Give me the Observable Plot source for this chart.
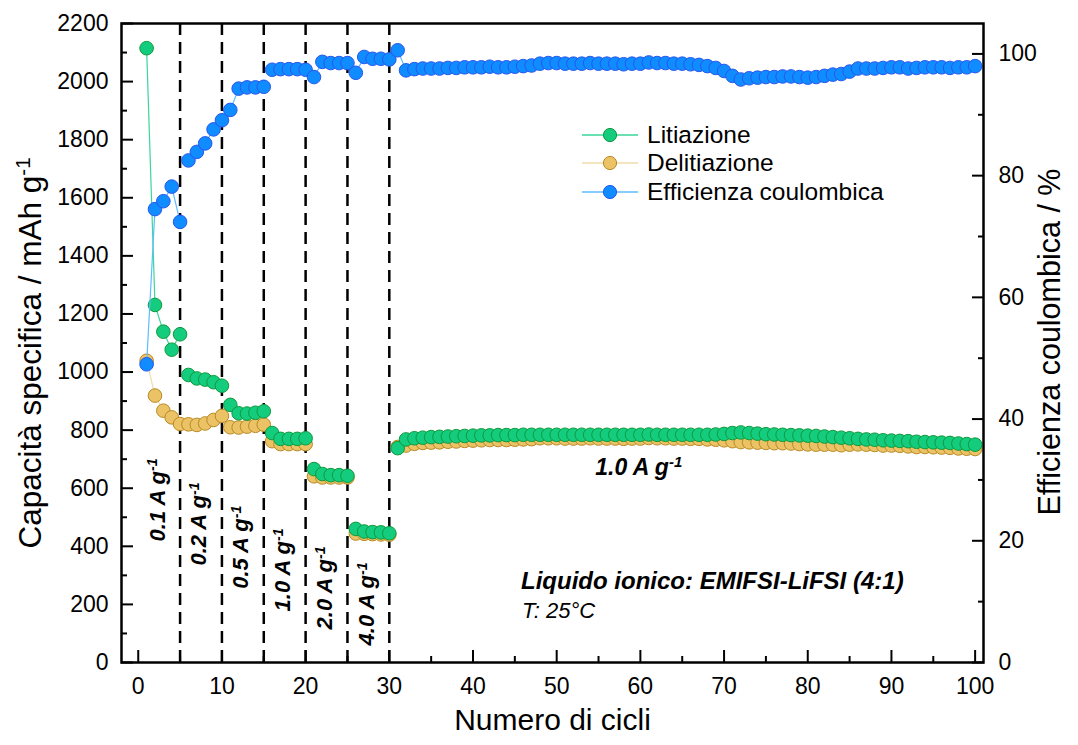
<!DOCTYPE html>
<html>
<head>
<meta charset="utf-8">
<script src="https://cdn.jsdelivr.net/npm/d3@7"></script>
<script src="https://cdn.jsdelivr.net/npm/@observablehq/plot@0.6"></script>
<style>
  body { margin: 0; background: #fff; }
  #wrap { position: relative; width: 1078px; height: 745px; font-family: "Liberation Sans", Arial, sans-serif; color: #000; }
  .lg { position: absolute; left: 581px; height: 28px; display: flex; align-items: center; font-size: 24.5px; white-space: nowrap; }
  .lg svg { margin-right: 8px; }
  .note { position: absolute; left: 521px; white-space: nowrap; line-height: 1; font-style: italic; }
</style>
</head>
<body>
<div id="wrap"></div>
<script>
// ---------------- data ----------------
const cycles = d3.range(1, 101);

const litiazione = [
  2115, 1231, 1139, 1077, 1130, 990, 978, 974, 965, 953,
  887, 858, 857, 860, 865, 790, 770, 770, 770, 772,
  666, 649, 645, 645, 643, 460, 451, 449, 448, 445,
  738, 768, 772, 774, 776, 777, 778, 779, 780, 781,
  782, 782, 783, 783, 783, 784, 784, 784, 784, 784,
  784, 784, 784, 784, 784, 784, 784, 784, 784, 784,
  785, 784, 784, 784, 784, 784, 784, 784, 785, 787,
  790, 792, 790, 788, 786, 785, 784, 783, 782, 781,
  780, 778, 776, 774, 772, 770, 768, 767, 765, 764,
  763, 762, 760, 759, 758, 757, 756, 754, 752, 750
];

const delitiazione = [
  1039, 919, 867, 844, 821, 820, 818, 823, 835, 849,
  810, 809, 812, 815, 819, 762, 752, 752, 752, 752,
  641, 637, 637, 637, 637, 444, 443, 442, 441, 440,
  742, 747, 753, 756, 757, 758, 760, 761, 763, 764,
  765, 766, 766, 766, 767, 768, 769, 772, 772, 772,
  771, 771, 771, 772, 771, 771, 771, 770, 771, 771,
  773, 772, 772, 771, 771, 770, 770, 768, 767, 765,
  762, 759, 758, 757, 756, 755, 755, 754, 752, 751,
  750, 750, 750, 748, 750, 751, 750, 749, 747, 747,
  746, 744, 742, 742, 741, 740, 739, 737, 736, 735
];

const efficienza = [
  49.0, 74.5, 75.8, 78.2, 72.4, 82.5, 83.9, 85.3, 87.6, 89.1,
  90.8, 94.3, 94.5, 94.5, 94.6, 97.4, 97.5, 97.5, 97.5, 97.4,
  96.2, 98.7, 98.5, 98.5, 98.5, 96.9, 99.5, 99.2, 99.2, 99.1,
  100.6, 97.3, 97.5, 97.6, 97.6, 97.6, 97.7, 97.7, 97.8, 97.8,
  97.8, 97.9, 97.8, 97.8, 97.9, 98.0, 98.1, 98.4, 98.5, 98.5,
  98.4, 98.4, 98.4, 98.5, 98.4, 98.4, 98.4, 98.3, 98.4, 98.4,
  98.6, 98.5, 98.5, 98.4, 98.4, 98.3, 98.2, 98.0, 97.7, 97.2,
  96.4, 95.8, 96.0, 96.1, 96.2, 96.2, 96.3, 96.3, 96.2, 96.1,
  96.2, 96.4, 96.6, 96.7, 97.1, 97.6, 97.6, 97.6, 97.7, 97.8,
  97.8, 97.6, 97.7, 97.8, 97.8, 97.8, 97.7, 97.8, 97.8, 98.0
];

const rateBoundaries = [5, 10, 15, 20, 25, 30];
const rates = ["0.1", "0.2", "0.5", "1.0", "2.0", "4.0"];
const longRate = "1.0";

const leftTicks = d3.range(0, 2201, 200);
const bottomTicks = d3.range(0, 101, 10);
const rightTicks = d3.range(0, 101, 20);

const seriesNames = ["Litiazione", "Delitiazione", "Efficienza coulombica"];

// ---------------- chart ----------------
const K = 2200 / 105; // right-axis (%) to left-axis units
const segOf = c => (c <= 30 ? Math.ceil(c / 5) : 7);
const rows = cycles.map((c, i) => ({
  c, seg: segOf(c),
  lit: litiazione[i], del: delitiazione[i], eff: efficienza[i] * K
}));

const C = {
  lit: { fill: "#14cc7e", stroke: "#10993c", line: "#3ad69a" },
  del: { fill: "#ebc266", stroke: "#b98a22", line: "#f1dcaa" },
  eff: { fill: "#0f8cff", stroke: "#2a56ee", line: "#5cbcff" }
};

const labelYs = [560, 477, 397, 319, 257, 202];
const rateAnnot = rates.map((r, i) => ({ text: r + " A g⁻¹", x: rateBoundaries[i] - 2.7, y: labelYs[i] }));

const dotR = 6.8;
const series = (key) => [
  Plot.line(rows, { x: "c", y: key, z: "seg", stroke: C[key].line, strokeWidth: 1.2 }),
  Plot.dot(rows, { x: "c", y: key, r: dotR, fill: C[key].fill, stroke: C[key].stroke, strokeWidth: 1 })
];

const MAJ = 12, MIN = 6;
const chart = Plot.plot({
  width: 1078,
  height: 745,
  marginLeft: 121,
  marginRight: 95,
  marginTop: 23,
  marginBottom: 83,
  style: { fontFamily: "'Liberation Sans', Arial, sans-serif", fontSize: "23px", color: "#000", background: "#fff", overflow: "visible" },
  x: { domain: [-2, 101], axis: null },
  y: { domain: [0, 2200], axis: null },
  marks: [
    Plot.ruleX(rateBoundaries, { stroke: "#000", strokeWidth: 2.5, strokeDasharray: "12,7" }),
    ...series("del"),
    ...series("lit"),
    ...series("eff"),
    // rate annotations
    Plot.text(rateAnnot, { x: "x", y: "y", text: "text", rotate: -90, fontSize: 22, fontWeight: "bold", fontStyle: "italic", fill: "#000" }),
    Plot.text([longRate + " A g⁻¹"], { x: 59.8, y: 671, fontSize: 23, fontWeight: "bold", fontStyle: "italic", fill: "#000" }),
    // axes (ticks pointing inward: shifted by their own length)
    Plot.axisX({ ticks: bottomTicks, tickSize: MAJ, dy: -MAJ, tickPadding: 15, strokeWidth: 2, label: null, tickFormat: d => String(d) }),
    Plot.axisX({ ticks: d3.range(5, 100, 10), tickSize: MIN, dy: -MIN, strokeWidth: 2, label: null, tickFormat: () => "" }),
    Plot.axisY({ ticks: leftTicks, tickSize: MAJ, dx: MAJ, tickPadding: 13, strokeWidth: 2, label: null, tickFormat: d => String(d) }),
    Plot.axisY({ ticks: d3.range(100, 2200, 200), tickSize: MIN, dx: MIN, strokeWidth: 2, label: null, tickFormat: () => "" }),
    Plot.axisY({ anchor: "right", ticks: rightTicks.map(v => v * K), tickSize: MAJ, dx: -MAJ, tickPadding: 15, strokeWidth: 2, label: null, tickFormat: d => String(Math.round(d / K)) }),
    Plot.axisY({ anchor: "right", ticks: d3.range(10, 100, 20).map(v => v * K), tickSize: MIN, dx: -MIN, strokeWidth: 2, label: null, tickFormat: () => "" }),
    // axis titles
    Plot.text(["Numero di cicli"], { frameAnchor: "bottom", lineAnchor: "middle", textAnchor: "middle", dy: 58, fontSize: 30, fill: "#000" }),
    Plot.text(["Capacità specifica / mAh g⁻¹"], { frameAnchor: "left", lineAnchor: "middle", textAnchor: "middle", dx: -91, dy: 10, rotate: -90, fontSize: 31.5, fill: "#000" }),
    Plot.text(["Efficienza coulombica / %"], { frameAnchor: "right", lineAnchor: "middle", textAnchor: "middle", dx: 67, dy: -1, rotate: -90, fontSize: 30.5, fill: "#000" }),
    Plot.frame({ stroke: "#000", strokeWidth: 2.5 })
  ]
});

// superscript "-1"
d3.select(chart).selectAll("text").each(function () {
  const t = this.textContent;
  if (t.endsWith("⁻¹")) {
    this.textContent = t.slice(0, -2);
    d3.select(this).append("tspan").attr("dy", "-0.5em").attr("font-size", "0.65em").text("-1");
  }
});

const wrap = document.getElementById("wrap");
wrap.appendChild(chart);

// legend
const legendRows = [
  { name: seriesNames[0], c: C.lit, cy: 134.5 },
  { name: seriesNames[1], c: C.del, cy: 163 },
  { name: seriesNames[2], c: C.eff, cy: 191.5 }
];
for (const r of legendRows) {
  const div = document.createElement("div");
  div.className = "lg";
  div.style.top = (r.cy - 14) + "px";
  div.innerHTML = `<svg width="58" height="20"><line x1="1" x2="57" y1="10" y2="10" stroke="${r.c.line}" stroke-width="1.5"/><circle cx="29" cy="10" r="6.6" fill="${r.c.fill}" stroke="${r.c.stroke}" stroke-width="1"/></svg><span>${r.name}</span>`;
  wrap.appendChild(div);
}

// sample notes
const n1 = document.createElement("div");
n1.className = "note";
n1.style.cssText = "top:569px;font-size:24px;font-weight:bold;";
n1.textContent = "Liquido ionico: EMIFSI-LiFSI (4:1)";
wrap.appendChild(n1);
const n2 = document.createElement("div");
n2.className = "note";
n2.style.cssText = "top:600px;font-size:22px;left:522px;";
n2.textContent = "T: 25°C";
wrap.appendChild(n2);
</script>
</body>
</html>
